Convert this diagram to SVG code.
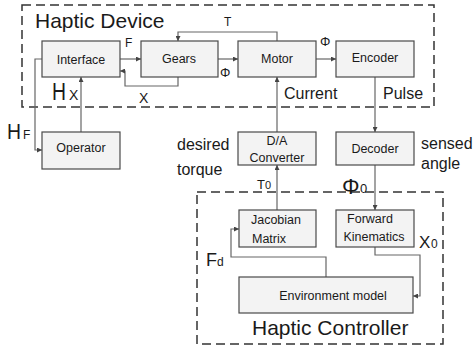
<svg xmlns="http://www.w3.org/2000/svg" width="474" height="348" viewBox="0 0 474 348">
<style>
.box{fill:#f3f3f3;stroke:#4a4a4a;stroke-width:1.2}
.grp{fill:none;stroke:#333;stroke-width:1.5;stroke-dasharray:9,5}
.ln{fill:none;stroke:#666;stroke-width:1.2;marker-end:url(#ah)}
text{font-family:"Liberation Sans",Arial,sans-serif;fill:#1a1a1a}
.bt{font-size:12.5px;text-anchor:middle}
.lb{font-size:16px}
.big{font-size:21px}
</style>
<defs>
<marker id="ah" viewBox="0 0 10 10" refX="10" refY="5" markerWidth="5" markerHeight="5" markerUnits="userSpaceOnUse" orient="auto">
<path d="M0,0 L10,5 L0,10 z" fill="#444"/>
</marker>
</defs>
<rect fill="#fff" width="474" height="348"/>
<g id="haptic-device">
<rect class="grp" x="22" y="5" width="412" height="102"/>
<text class="big" x="35" y="28">Haptic Device</text>
</g>
<g id="haptic-controller">
<rect class="grp" x="197" y="192" width="246" height="152"/>
<text class="big" x="252" y="335">Haptic Controller</text>
</g>
<g id="connectors">
<path class="ln" d="M120,59 H141"/>
<path class="ln" d="M218,59 H238"/>
<path class="ln" d="M316,59 H336"/>
<path class="ln" d="M277,41 V32 H178 V41"/>
<path class="ln" d="M178,77 V86 H125 V71 H120"/>
<path class="ln" d="M81,132 V77"/>
<path class="ln" d="M42,59 H35 V150 H42"/>
<path class="ln" d="M277,132 V77"/>
<path class="ln" d="M375,77 V132"/>
<path class="ln" d="M277,210 V165"/>
<path class="ln" d="M375,165 V210"/>
<path class="ln" d="M375,247 V255 H420 V296 H413"/>
<path class="ln" d="M326,277 V257 H231 V229 H239"/>
</g>
<g id="interface"><rect class="box" x="42" y="41" width="78" height="36"/><text class="bt" x="81" y="64">Interface</text></g>
<g id="gears"><rect class="box" x="141" y="41" width="77" height="36"/><text class="bt" x="179" y="63">Gears</text></g>
<g id="motor"><rect class="box" x="238" y="41" width="78" height="36"/><text class="bt" x="277" y="63">Motor</text></g>
<g id="encoder"><rect class="box" x="336" y="41" width="78" height="36"/><text class="bt" x="375" y="62">Encoder</text></g>
<g id="operator"><rect class="box" x="42" y="132" width="78" height="37"/><text class="bt" x="81" y="152">Operator</text></g>
<g id="da-converter"><rect class="box" x="238" y="132" width="78" height="33"/><text class="bt" x="277" y="145">D/A</text><text class="bt" x="277" y="162">Converter</text></g>
<g id="decoder"><rect class="box" x="336" y="132" width="78" height="33"/><text class="bt" x="375" y="153">Decoder</text></g>
<g id="jacobian"><rect class="box" x="239" y="210" width="77" height="37"/><text class="bt" x="276" y="224">Jacobian</text><text class="bt" x="269" y="243">Matrix</text></g>
<g id="forward-kinematics"><rect class="box" x="336" y="210" width="78" height="37"/><text class="bt" x="370" y="223">Forward</text><text class="bt" x="374" y="241">Kinematics</text></g>
<g id="environment-model"><rect class="box" x="239" y="277" width="174" height="36"/><text class="bt" x="333" y="300">Environment model</text></g>
<g id="labels">
<text x="125" y="47" font-size="12">F</text>
<text x="224" y="26" font-size="12">T</text>
<text x="139" y="103" font-size="14">X</text>
<text x="220" y="77" font-size="13">Φ</text>
<text x="320" y="46" font-size="13">Φ</text>
<text x="52" y="100" font-size="23" textLength="14" lengthAdjust="spacingAndGlyphs">H</text><text x="69" y="100" font-size="14">X</text>
<text x="7" y="139" font-size="22" textLength="14" lengthAdjust="spacingAndGlyphs">H</text><text x="23" y="139" font-size="12">F</text>
<text class="lb" x="284" y="99">Current</text>
<text class="lb" x="383" y="99">Pulse</text>
<text class="lb" x="177" y="150">desired</text>
<text class="lb" x="177" y="175">torque</text>
<text class="lb" x="421" y="149">sensed</text>
<text class="lb" x="421" y="169">angle</text>
<text x="257" y="189" font-size="13">T</text><text x="265" y="189" font-size="11">0</text>
<text x="342" y="194" font-size="22">Φ</text><text x="360" y="193" font-size="13">0</text>
<text x="419" y="248" font-size="17">X</text><text x="431" y="248" font-size="12">0</text>
<text x="206" y="266" font-size="18">F</text><text x="217" y="266" font-size="12">d</text>
</g>
</svg>
